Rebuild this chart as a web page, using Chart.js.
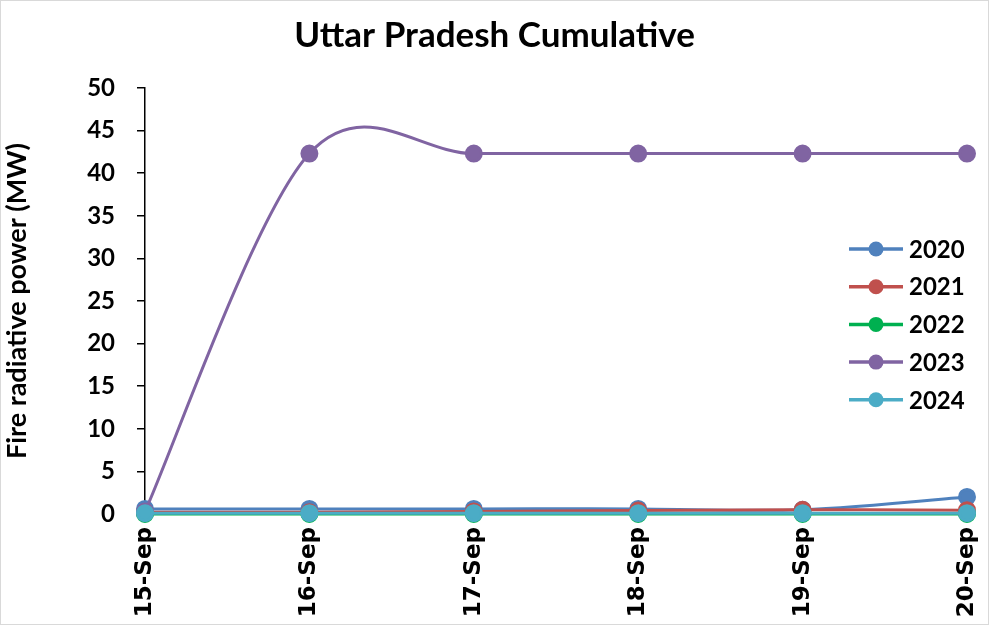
<!DOCTYPE html>
<html>
<head>
<meta charset="utf-8">
<script src="https://cdn.jsdelivr.net/npm/chart.js@4"></script>
<style>
  html, body { margin: 0; padding: 0; background: #fff; }
  #wrap { width: 989px; height: 625px; box-sizing: border-box; border: 1px solid #d9d9d9; }
</style>
</head>
<body>
<div id="wrap"><canvas id="myChart" width="987" height="623"></canvas></div>
<script>
// categories and values
const days = ['15-Sep', '16-Sep', '17-Sep', '18-Sep', '19-Sep', '20-Sep'];
const years = ['2020', '2021', '2022', '2023', '2024'];
const frp2020 = [0.6, 0.6, 0.6, 0.6, 0.5, 2.0];
const frp2021 = [0.2, 0.2, 0.3, 0.4, 0.5, 0.45];
const frp2022 = [0, 0, 0, 0, 0, 0];
const frp2023 = [0.3, 42.3, 42.3, 42.3, 42.3, 42.3];
const frp2024 = [0.1, 0.1, 0.1, 0.1, 0.1, 0.1];
const colors = ['#4F81BD', '#C0504D', '#00B050', '#8064A2', '#4BACC6'];
const yTicks = [0, 5, 10, 15, 20, 25, 30, 35, 40, 45, 50];

const series = [frp2020, frp2021, frp2022, frp2023, frp2024];
const fontMain = 'Lato, "Open Sans", sans-serif';

// Excel-style smoothing: uniform Catmull-Rom control points (1/6 of neighbour chord)
const excelSmooth = {
  id: 'excelSmooth',
  beforeDatasetDraw(chart, args) {
    const line = args.meta.dataset;
    const pts = args.meta.data;
    line.updateControlPoints(chart.chartArea);
    pts.forEach(function(pt, i) {
      const prev = pts[i - 1] || pt;
      const next = pts[i + 1] || pt;
      const dx = (next.x - prev.x) / 6;
      const dy = (next.y - prev.y) / 6;
      pt.cp1x = pt.x - dx;
      pt.cp1y = pt.y - dy;
      pt.cp2x = pt.x + dx;
      pt.cp2y = pt.y + dy;
    });
  }
};

// legend drawn inside the plot area, like the original
const insideLegend = {
  id: 'insideLegend',
  afterDraw(chart) {
    const ctx = chart.ctx;
    ctx.save();
    chart.data.datasets.forEach(function(ds, i) {
      const y = 248 + i * 37.7;
      ctx.strokeStyle = ds.borderColor;
      ctx.lineWidth = 3.5;
      ctx.beginPath();
      ctx.moveTo(848, y);
      ctx.lineTo(902, y);
      ctx.stroke();
      ctx.fillStyle = ds.borderColor;
      ctx.beginPath();
      ctx.arc(875, y, 7.5, 0, Math.PI * 2);
      ctx.fill();
      ctx.fillStyle = '#000';
      ctx.font = 'bold 24px ' + fontMain;
      ctx.textBaseline = 'middle';
      ctx.fillText(ds.label, 908, y + 1);
    });
    ctx.restore();
  }
};

const ctx = document.getElementById('myChart').getContext('2d');
new Chart(ctx, {
  type: 'line',
  data: {
    labels: days,
    datasets: series.map(function(vals, i) {
      return {
        label: years[i],
        data: vals,
        borderColor: colors[i],
        backgroundColor: colors[i],
        borderWidth: 3,
        pointRadius: 7.5,
        pointHoverRadius: 7.5,
        tension: 0.4,
        capBezierPoints: false,
        order: 5 - i,
        clip: false
      };
    })
  },
  options: {
    responsive: false,
    animation: false,
    layout: { padding: 0 },
    plugins: {
      legend: { display: false },
      tooltip: { enabled: false },
      title: {
        display: true,
        text: 'Uttar Pradesh Cumulative',
        color: '#000',
        font: { family: fontMain, size: 35, weight: 'bold' },
        padding: { top: 14, bottom: 31 }
      }
    },
    scales: {
      x: {
        offset: false,
        border: { display: true, color: '#000', width: 1.5 },
        grid: { display: true, drawOnChartArea: false, color: '#000', tickLength: 7, lineWidth: 1.5 },
        ticks: {
          color: '#000',
          maxRotation: 90,
          minRotation: 90,
          autoSkip: false,
          padding: 6,
          font: { family: '"DejaVu Sans", sans-serif', size: 23, weight: 'bold' }
        },
        afterFit(scale) {
          scale.height = 110;
          scale.paddingLeft = 0;
          scale.paddingRight = 21;
        }
      },
      y: {
        min: 0,
        max: 50,
        afterBuildTicks(scale) { scale.ticks = yTicks.map(v => ({ value: v })); },
        border: { display: true, color: '#000', width: 1.5 },
        grid: { display: true, drawOnChartArea: false, color: '#000', tickLength: 8, lineWidth: 1.5 },
        ticks: {
          color: '#000',
          padding: 22,
          font: { family: fontMain, size: 24, weight: 'bold' }
        },
        title: {
          display: true,
          text: 'Fire radiative power (MW)',
          color: '#000',
          font: { family: fontMain, size: 27, weight: 'bold' },
          padding: { top: 0, bottom: 8 }
        },
        afterFit(scale) { scale.width = 144; }
      }
    }
  },
  plugins: [excelSmooth, insideLegend]
});
</script>
</body>
</html>
